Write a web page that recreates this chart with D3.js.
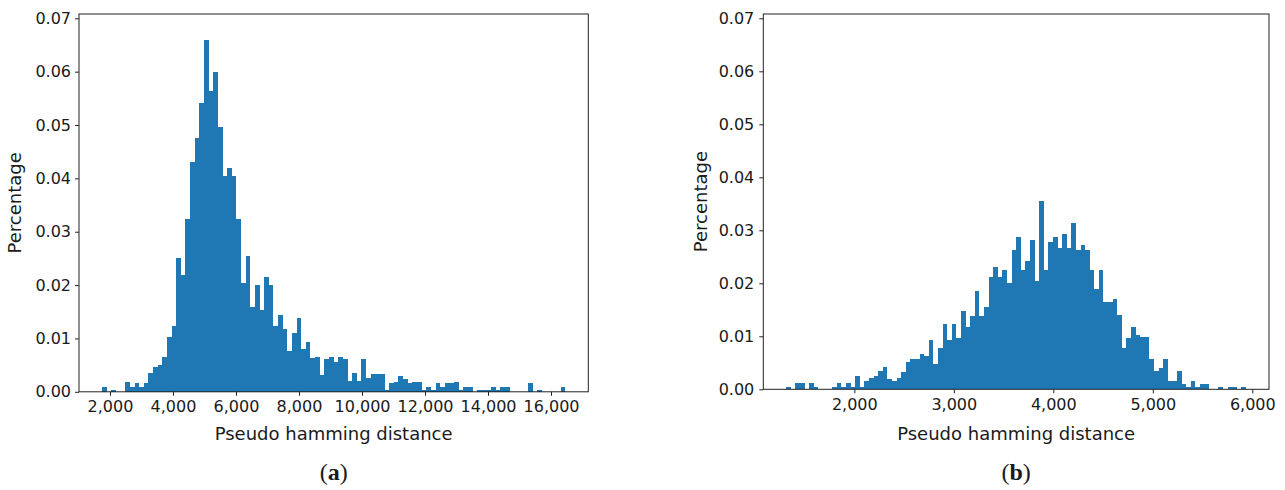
<!DOCTYPE html>
<html>
<head>
<meta charset="utf-8">
<script src="https://cdn.jsdelivr.net/npm/d3@7"></script>
<style>
  body { margin: 0; background: #fff; }
  svg text { fill: #1a1a1a; }
</style>
</head>
<body>
<svg id="chart" width="1285" height="490"></svg>
<script>
// Data: 100 histogram bins per panel (share of samples)
const rangeA = [1751, 16449];   // data min / max, panel (a)
const valuesA = [
  0.0009, 0, 0.0003, 0, 0, 0.0019, 0.0009, 0.0016, 0.0009, 0.0016,
  0.0036, 0.0046, 0.0051, 0.0066, 0.0102, 0.0123, 0.0250, 0.0219, 0.0323, 0.0431,
  0.0476, 0.0542, 0.0660, 0.0563, 0.0599, 0.0496, 0.0404, 0.0419, 0.0404, 0.0323,
  0.0204, 0.0255, 0.0159, 0.0200, 0.0154, 0.0215, 0.0200, 0.0124, 0.0143, 0.0118,
  0.0077, 0.0111, 0.0139, 0.0081, 0.0093, 0.0063, 0.0066, 0.0031, 0.0061, 0.0066,
  0.0056, 0.0066, 0.0061, 0.0020, 0.0035, 0.0020, 0.0062, 0.0025, 0.0034, 0.0034,
  0.0034, 0.0004, 0.0016, 0.0019, 0.0030, 0.0024, 0.0016, 0.0019, 0.0019, 0.0003,
  0.0009, 0.0003, 0.0016, 0.0009, 0.0016, 0.0016, 0.0019, 0.0003, 0.0009, 0.0009,
  0, 0.0003, 0.0003, 0.0003, 0.0009, 0.0003, 0.0009, 0.0009, 0, 0,
  0, 0, 0.0016, 0, 0.0004, 0, 0, 0, 0, 0.0009
];
const ticksA = [2000, 4000, 6000, 8000, 10000, 12000, 14000, 16000];

const rangeB = [1316, 5937];    // data min / max, panel (b)
const valuesB = [
  0.0005, 0, 0.0011, 0.0011, 0, 0.0011, 0.0004, 0, 0, 0,
  0.0005, 0.0011, 0.0005, 0.0011, 0.0005, 0.0026, 0.0004, 0.0016, 0.0021, 0.0026,
  0.0035, 0.0042, 0.0020, 0.0016, 0.0021, 0.0032, 0.0051, 0.0057, 0.0057, 0.0067,
  0.0063, 0.0093, 0.0047, 0.0077, 0.0124, 0.0093, 0.0124, 0.0097, 0.0148, 0.0118,
  0.0139, 0.0186, 0.0139, 0.0155, 0.0211, 0.0231, 0.0211, 0.0226, 0.0201, 0.0263,
  0.0287, 0.0226, 0.0242, 0.0282, 0.0205, 0.0355, 0.0226, 0.0278, 0.0287, 0.0266,
  0.0293, 0.0266, 0.0313, 0.0263, 0.0272, 0.0262, 0.0226, 0.0189, 0.0226, 0.0164,
  0.0164, 0.0170, 0.0140, 0.0077, 0.0097, 0.0118, 0.0103, 0.0098, 0.0098, 0.0057,
  0.0035, 0.0041, 0.0057, 0.0016, 0.0016, 0.0035, 0.0010, 0.0005, 0.0016, 0.0005,
  0.0010, 0.0010, 0, 0, 0.0004, 0, 0.0004, 0.0004, 0, 0.0004
];
const ticksB = [2000, 3000, 4000, 5000, 6000];

const yTicks = [0, 0.01, 0.02, 0.03, 0.04, 0.05, 0.06, 0.07];

const svg = d3.select("#chart");
const barColor = "#1f77b4";

// Draw one histogram panel
function drawPanel(opts) {
  const { values, range, ticks, box, yZero, caption } = opts;
  const span = range[1] - range[0];

  // matplotlib-like 5% margins on x
  const x = d3.scaleLinear()
      .domain([range[0] - span * 0.05, range[1] + span * 0.05])
      .range([box.left, box.right]);

  // y: 0 at the bottom spine, 0.07 tick at fixed height
  const y = d3.scaleLinear()
      .domain([0, 0.07])
      .range([yZero, 18.3]);

  const g = svg.append("g");

  // bins
  const binW = span / values.length;
  const bins = values.map((v, i) => ({ x0: range[0] + i * binW, x1: range[0] + (i + 1) * binW, v }));

  // rounded edges so neighbouring bars meet without seams
  g.selectAll("rect.bar")
    .data(bins.filter(d => d.v > 0))
    .enter().append("rect")
      .attr("class", "bar")
      .attr("x", d => Math.round(x(d.x0)))
      .attr("width", d => Math.round(x(d.x1)) - Math.round(x(d.x0)))
      .attr("y", d => Math.round(y(d.v)))
      .attr("height", d => Math.round(yZero) - Math.round(y(d.v)))
      .attr("fill", barColor)
      .attr("shape-rendering", "crispEdges");

  // X axis
  const xAxis = g.append("g")
      .attr("transform", "translate(0," + yZero + ")")
      .call(d3.axisBottom(x).tickValues(ticks).tickSize(4).tickPadding(5).tickFormat(d3.format(",")));
  xAxis.select(".domain").remove();

  // Y axis
  const yAxis = g.append("g")
      .attr("transform", "translate(" + box.left + ",0)")
      .call(d3.axisLeft(y).tickValues(yTicks).tickSize(4).tickPadding(opts.yPad).tickFormat(d3.format(".2f")));
  yAxis.select(".domain").remove();

  g.selectAll(".tick line").attr("stroke", "#222").attr("stroke-width", 1);
  g.selectAll(".tick text")
      .style("font-family", "DejaVu Sans, sans-serif")
      .style("font-size", "16px")
      .attr("fill", "#1a1a1a");

  // frame
  g.append("rect")
      .attr("x", box.left)
      .attr("y", box.top)
      .attr("width", box.right - box.left)
      .attr("height", yZero - box.top)
      .attr("fill", "none")
      .attr("stroke", "#222")
      .attr("stroke-width", 1);

  const cx = (box.left + box.right) / 2;

  // labels
  g.append("text")
      .attr("x", cx)
      .attr("y", 440)
      .attr("text-anchor", "middle")
      .style("font-family", "DejaVu Sans, sans-serif")
      .style("font-size", "18px")
      .text("Pseudo hamming distance");

  g.append("text")
      .attr("transform", "translate(" + opts.yLabelX + "," + (box.top + yZero) / 2 + ") rotate(-90)")
      .attr("text-anchor", "middle")
      .style("font-family", "DejaVu Sans, sans-serif")
      .style("font-size", "18px")
      .text("Percentage");

  const cap = g.append("text")
      .attr("x", cx)
      .attr("y", 480)
      .attr("text-anchor", "middle")
      .style("font-family", "Liberation Serif, serif")
      .style("font-size", "24px");
  cap.append("tspan").text("(");
  cap.append("tspan").attr("font-weight", "bold").text(caption);
  cap.append("tspan").text(")");
}

drawPanel({
  values: valuesA, range: rangeA, ticks: ticksA,
  box: { left: 79, right: 588.3, top: 14 }, yZero: 391.8,
  yPad: 4, yLabelX: 21, caption: "a"
});

drawPanel({
  values: valuesB, range: rangeB, ticks: ticksB,
  box: { left: 763.3, right: 1269, top: 14 }, yZero: 389.3,
  yPad: 5, yLabelX: 707, caption: "b"
});
</script>
</body>
</html>
